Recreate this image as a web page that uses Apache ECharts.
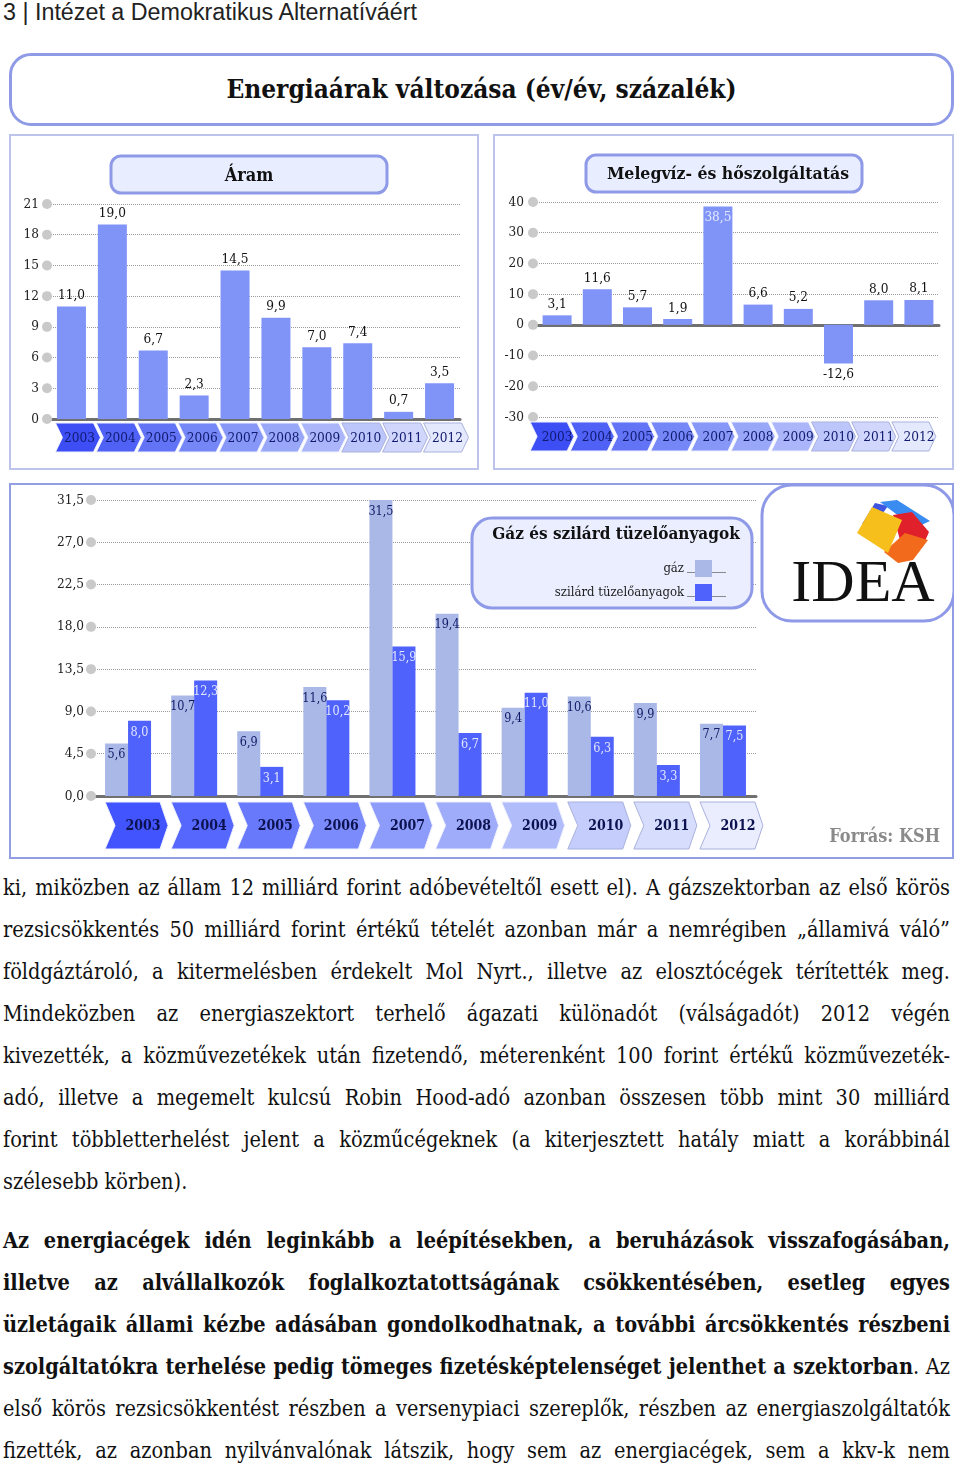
<!DOCTYPE html>
<html><head><meta charset="utf-8">
<script src="https://cdn.jsdelivr.net/npm/echarts@6/dist/echarts.min.js"></script>
<style>
html,body{margin:0;padding:0;background:#fff;}
body{width:960px;height:1469px;position:relative;overflow:hidden;font-family:'DejaVu Serif Condensed','DejaVu Serif',serif;color:#111;}
.abs{position:absolute;}
#hdr{left:3px;top:0px;font-family:'Liberation Sans Narrow','Liberation Sans',sans-serif;font-size:23.3px;line-height:24px;color:#222;}
#titlebox{left:9px;top:53px;width:945px;height:73px;box-sizing:border-box;border:3px solid #8f9be6;border-radius:22px;background:#fff;text-align:center;font-weight:bold;font-size:26px;line-height:66px;color:#111;}
.panel{position:absolute;box-sizing:border-box;border:2px solid #bcc3ec;}
#p1{left:9px;top:134px;width:470px;height:336px;}
#p2{left:493px;top:134px;width:461px;height:336px;}
#p3{left:9px;top:483px;width:945px;height:376px;border-color:#939de4;}
.chart{position:absolute;}
#c1{left:9px;top:134px;width:470px;height:336px;}
#c2{left:493px;top:134px;width:461px;height:336px;}
#c3{left:9px;top:483px;width:945px;height:376px;}
#txt{left:3px;top:867px;width:947px;font-size:19px;line-height:42px;color:#111;}
.ln{text-align:justify;text-align-last:justify;}
.last{text-align:left;text-align-last:left;}
.measure .ln{text-align:left;text-align-last:left;white-space:nowrap;}
.par2{margin-top:17px;}
b{font-weight:bold;}
</style></head>
<body>
<div id="hdr" class="abs">3 | Intézet a Demokratikus Alternatíváért</div>
<div id="titlebox" class="abs">Energiaárak változása (év/év, százalék)</div>
<div id="p1" class="panel"></div>
<div id="p2" class="panel"></div>
<div id="p3" class="panel"></div>
<div id="c1" class="chart"></div>
<div id="c2" class="chart"></div>
<div id="c3" class="chart"></div>
<div id="txt" class="abs">
<div class="ln">ki, miközben az állam 12 milliárd forint adóbevételtől esett el). A gázszektorban az első körös</div>
<div class="ln">rezsicsökkentés 50 milliárd forint értékű tételét azonban már a nemrégiben „államivá váló”</div>
<div class="ln">földgáztároló, a kitermelésben érdekelt Mol Nyrt., illetve az elosztócégek térítették meg.</div>
<div class="ln">Mindeközben az energiaszektort terhelő ágazati különadót (válságadót) 2012 végén</div>
<div class="ln">kivezették, a közművezetékek után fizetendő, méterenként 100 forint értékű közművezeték-</div>
<div class="ln">adó, illetve a megemelt kulcsú Robin Hood-adó azonban összesen több mint 30 milliárd</div>
<div class="ln">forint többletterhelést jelent a közműcégeknek (a kiterjesztett hatály miatt a korábbinál</div>
<div class="ln last">szélesebb körben).</div>
<div class="ln par2"><b>Az energiacégek idén leginkább a leépítésekben, a beruházások visszafogásában,</b></div>
<div class="ln"><b>illetve az alvállalkozók foglalkoztatottságának csökkentésében, esetleg egyes</b></div>
<div class="ln"><b>üzletágaik állami kézbe adásában gondolkodhatnak, a további árcsökkentés részbeni</b></div>
<div class="ln"><b>szolgáltatókra terhelése pedig tömeges fizetésképtelenséget jelenthet a szektorban</b>. Az</div>
<div class="ln">első körös rezsicsökkentést részben a versenypiaci szereplők, részben az energiaszolgáltatók</div>
<div class="ln">fizették, az azonban nyilvánvalónak látszik, hogy sem az energiacégek, sem a kkv-k nem</div>
</div>
<script>
// ---- data ----
var years = ['2003','2004','2005','2006','2007','2008','2009','2010','2011','2012'];
var aram = [11.0, 19.0, 6.7, 2.3, 14.5, 9.9, 7.0, 7.4, 0.7, 3.5];
var melegviz = [3.1, 11.6, 5.7, 1.9, 38.5, 6.6, 5.2, -12.6, 8.0, 8.1];
var gaz = [5.6, 10.7, 6.9, 11.6, 31.5, 19.4, 9.4, 10.6, 9.9, 7.7];
var szilard = [8.0, 12.3, 3.1, 10.2, 15.9, 6.7, 11.0, 6.3, 3.3, 7.5];
var seriesNames = ['gáz', 'szilárd tüzelőanyagok'];
var panelTitles = ['Áram', 'Melegvíz- és hőszolgáltatás', 'Gáz és szilárd tüzelőanyagok'];

// ---- fit body text size so the widest line is natural ----
(function(){
  var txt = document.getElementById('txt');
  txt.classList.add('measure');
  var lns = txt.querySelectorAll('.ln'); var maxW = 0;
  lns.forEach(function(l){
    var s = document.createElement('span');
    while (l.firstChild) s.appendChild(l.firstChild);
    l.appendChild(s);
    if (!l.classList.contains('last')) maxW = Math.max(maxW, s.getBoundingClientRect().width);
  });
  var fs = 19 * 944 / maxW;
  txt.style.fontSize = Math.max(16, Math.min(fs, 24)) + 'px';
  txt.classList.remove('measure');
})();

// ---- styling ----
var FF = "'DejaVu Serif Condensed','DejaVu Serif',serif";
var chevColors = ['#3d4ef5','#5061f5','#6273f6','#7586f7','#8797f8','#98a7f8','#aab6f9','#bdc6fa','#d1d7fc','#e5e9fd'];
var chevColors3 = ['#4254fe','#5567fd','#6879fc','#7b8bfb','#8d9cfa','#9eacf9','#b1bdfa','#c4cdfb','#d7ddfc','#eaedfe'];
function fmt(v, d){ return Number(v).toFixed(d === undefined ? 1 : d).replace('.', ','); }

function yAxisCfg(min, max, interval, dec, spacer){
  return {
    type:'value', min:min, max:max, interval:interval,
    axisLine:{show:false}, axisTick:{show:false},
    splitLine:{show:true, lineStyle:{type:'dotted', color:'#9a9a9a', width:1}},
    axisLabel:{margin:-1, formatter:function(v){ return '{t|' + fmt(v, dec) + '}{s|}{d|}'; },
      rich:{ t:{fontFamily:FF, fontSize:13.5, color:'#222'}, s:{width:spacer}, d:{width:10, height:10, borderRadius:5, backgroundColor:'#c9c9c9'} } }
  };
}
function xAxisCfg(){
  return { type:'category', data:years, axisLine:{show:true, onZero:true, lineStyle:{color:'#707070', width:3}},
    axisTick:{show:false}, axisLabel:{show:false}, splitLine:{show:false} };
}
function chevronSeries(base, o){
  return {
    type:'custom', silent:true, clip:false, z:1,
    data: years.map(function(y, i){ return [i, base]; }),
    encode:{x:0, y:1},
    renderItem:function(params, api){
      var i = api.value(0);
      var p = api.coord([i, base]);
      var c = p[0], y0 = p[1];
      var T = y0 + o.top, B = y0 + o.bot, M = (T + B) / 2;
      return { type:'group', children:[
        { type:'polygon', shape:{ points:[[c+o.l,T],[c+o.r,T],[c+o.tip,M],[c+o.r,B],[c+o.l,B],[c+o.l+o.notch,M]] },
          style:{ fill:o.colors[i], stroke:(i > 6 ? '#a9b1dd' : '#eef0ff'), lineWidth:1 } },
        { type:'text', style:{ text:years[i], x:c+o.tx, y:M+1, align:'center', verticalAlign:'middle',
          fontFamily:FF, fontSize:o.fs, fontWeight:o.fw, fill:o.tc } }
      ]};
    }
  };
}
function boxGraphic(x, y, w, h, r, fill, text, tx, ty, fs){
  return [
    { type:'rect', shape:{x:x, y:y, width:w, height:h, r:r}, style:{fill:fill, stroke:'#8e9ae8', lineWidth:3}, z:10 },
    { type:'text', style:{ text:text, x:tx, y:ty, align:'center', verticalAlign:'middle', fontFamily:FF, fontSize:fs, fontWeight:'bold', fill:'#111' }, z:11 }
  ];
}

// ---- chart 1: Áram ----
var c1 = echarts.init(document.getElementById('c1'));
c1.setOption({
  animation:false,
  grid:{left:42, top:70, width:409, height:215},
  xAxis:xAxisCfg(),
  yAxis:yAxisCfg(0, 21, 3, 0, 3),
  graphic: boxGraphic(102, 22, 276, 37, 10, '#e8eeff', panelTitles[0], 240, 42, 18),
  series:[
    { type:'bar', data:aram, barWidth:29, itemStyle:{color:'#8094f7'}, z:3,
      label:{show:true, position:'top', distance:4, formatter:function(p){ return fmt(p.value); }, fontFamily:FF, fontSize:13.5, color:'#111'} },
    chevronSeries(0, {l:-16, r:22, tip:29, notch:7, top:4, bot:33, tx:8, fs:13.5, fw:'normal', tc:'#101a6e', colors:chevColors})
  ]
});

// ---- chart 2: Melegvíz ----
var c2 = echarts.init(document.getElementById('c2'));
c2.setOption({
  animation:false,
  grid:{left:44, top:68, width:402, height:215},
  xAxis:xAxisCfg(),
  yAxis:yAxisCfg(-30, 40, 10, 0, 4),
  graphic: boxGraphic(93, 21, 276, 37, 10, '#e8eeff', panelTitles[1], 235, 40, 17.5),
  series:[
    { type:'bar', barWidth:29, itemStyle:{color:'#8094f7'}, z:3,
      data: melegviz.map(function(v){
        if (v > 35) return {value:v, label:{position:'insideTop', color:'#e3e8ff'}};
        if (v < 0) return {value:v, label:{position:'bottom'}};
        return v;
      }),
      label:{show:true, position:'top', distance:4, formatter:function(p){ return fmt(p.value); }, fontFamily:FF, fontSize:13.5, color:'#111'} },
    chevronSeries(-30, {l:-27, r:10, tip:17, notch:7, top:5, bot:34, tx:0, fs:13.5, fw:'normal', tc:'#101a6e', colors:chevColors})
  ]
});

// ---- chart 3: Gáz és szilárd ----
var c3 = echarts.init(document.getElementById('c3'));
function L(pts){ return pts.map(function(p){ return [p[0]-9, p[1]-483]; }); }
var g3 = [];
g3 = g3.concat(boxGraphic(463, 35, 280, 90, 20, '#eaeeff', panelTitles[2], 607, 52, 17));
g3.push({ type:'line', shape:{x1:678, y1:89.5, x2:717, y2:89.5}, style:{stroke:'#8a8a8a', lineWidth:1}, z:12 });
g3.push({ type:'line', shape:{x1:678, y1:113.5, x2:717, y2:113.5}, style:{stroke:'#8a8a8a', lineWidth:1}, z:12 });
// IDEA logo box
g3.push({ type:'rect', shape:{x:753, y:2, width:192, height:136, r:30}, style:{fill:'#fff', stroke:'#8e9ae8', lineWidth:3}, z:10 });
g3.push({ type:'polygon', shape:{points:L([[862,524],[875,503],[888,506],[872,528]])}, style:{fill:'#3f55e0'}, z:11 });
g3.push({ type:'polygon', shape:{points:L([[880,502],[897,500],[930,521],[915,528]])}, style:{fill:'#3a8cf0'}, z:11 });
g3.push({ type:'polygon', shape:{points:L([[893,515],[912,512],[929,532],[922,548],[900,540]])}, style:{fill:'#e0202a'}, z:11 });
g3.push({ type:'polygon', shape:{points:L([[884,552],[905,533],[928,540],[913,560],[898,563]])}, style:{fill:'#f26a1b'}, z:12 });
g3.push({ type:'polygon', shape:{points:L([[857,533],[872,507],[902,520],[888,553]])}, style:{fill:'#f7bf1c'}, z:13 });
g3.push({ type:'text', style:{ text:'IDEA', x:854, y:132, align:'center', verticalAlign:'bottom', fontFamily:"'Liberation Serif','Times New Roman',serif", fontSize:60, fill:'#111' }, z:13 });
g3.push({ type:'text', style:{ text:'Forrás: KSH', x:931, y:354, align:'right', verticalAlign:'middle', fontFamily:FF, fontSize:18, fontWeight:'bold', fill:'#8a8a8a' }, z:11 });

c3.setOption({
  animation:false,
  grid:{left:86, top:17, width:661, height:296},
  legend:{ orient:'vertical', right:237, top:72, align:'right', itemWidth:17, itemHeight:17, itemGap:7, icon:'rect', z:12,
    data:seriesNames, textStyle:{fontFamily:FF, fontSize:13, color:'#222', padding:[0,6,0,0]} },
  xAxis:xAxisCfg(),
  yAxis:yAxisCfg(0, 31.5, 4.5, 1, 2),
  graphic:g3,
  series:[
    { name:seriesNames[0], type:'bar', data:gaz, barWidth:23, barGap:'0%', itemStyle:{color:'#a9b8e6'}, z:3,
      label:{show:true, position:'insideTop', distance:5, formatter:function(p){ return fmt(p.value); }, fontFamily:FF, fontSize:12.5, color:'#101a66'} },
    { name:seriesNames[1], type:'bar', data:szilard, barWidth:23, barGap:'0%', itemStyle:{color:'#4f62fc'}, z:3,
      label:{show:true, position:'insideTop', distance:5, formatter:function(p){ return fmt(p.value); }, fontFamily:FF, fontSize:12.5, color:'#e2e6ff'} },
    chevronSeries(0, {l:-23, r:32, tip:40, notch:10, top:6, bot:53, tx:15, fs:14, fw:'bold', tc:'#0c1250', colors:chevColors3})
  ]
});
</script>
</body></html>
